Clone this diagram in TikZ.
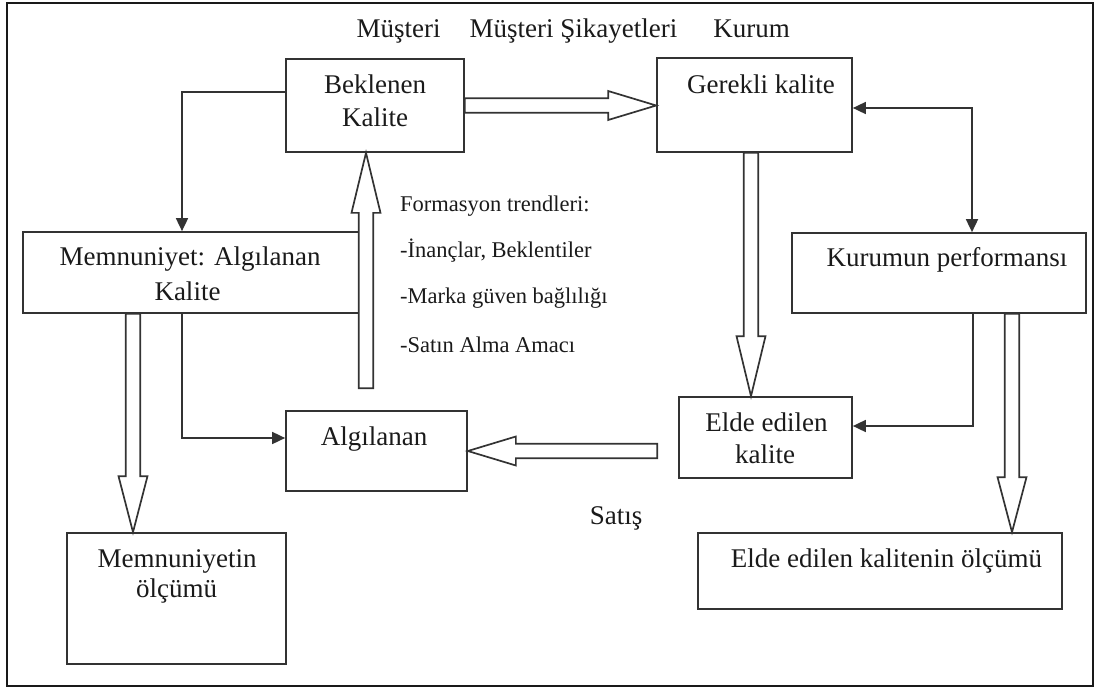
\documentclass[tikz,border=0pt]{standalone}
\usepackage{fontspec}
\setmainfont{Liberation Serif}
\usetikzlibrary{calc,arrows.meta}

\definecolor{linegray}{HTML}{333333}
\definecolor{textblack}{HTML}{1A1A1A}

% Hollow block arrow from #2 to #3, head length #1
\newcommand\blockarrow[3][56pt]{%
  \coordinate (ba-s) at (#2);
  \coordinate (ba-e) at (#3);
  \coordinate (ba-h) at ($(ba-e)!#1!(ba-s)$);
  \draw[hollow] ($(ba-s)!7.2pt!90:(ba-e)$) -- ($(ba-h)!7.2pt!-90:(ba-s)$)
    -- ($(ba-h)!14.5pt!-90:(ba-s)$) -- (ba-e) -- ($(ba-h)!14.5pt!90:(ba-s)$)
    -- ($(ba-h)!7.2pt!90:(ba-s)$) -- ($(ba-s)!7.2pt!-90:(ba-e)$) -- cycle;}

\begin{document}
\begin{tikzpicture}[x=1pt,y=-1pt,
  >={Triangle[length=13pt,width=12pt]},
  box/.style={draw=linegray, line width=1.7pt, inner sep=0pt},
  txt/.style={inner sep=0pt, anchor=base, font=\fontsize{27}{32}\selectfont, text=textblack},
  small/.style={inner sep=0pt, anchor=base west, font=\fontsize{22.5}{27}\selectfont, text=textblack},
  hollow/.style={draw=linegray, line width=1.7pt, fill=white, line join=miter},
  link/.style={draw=linegray, line width=1.7pt},
]
\useasboundingbox (0,0) rectangle (1099,688);
\draw[line width=2.2pt, draw=black!90] (7,3) rectangle (1093,686);

% column headings
\node[txt] (h1) at (398.5,37) {Müşteri};
\node[txt] (h2) at (573.5,37) {Müşteri Şikayetleri};
\node[txt] (h3) at (751.5,37) {Kurum};

% boxes
\node[box, minimum width=178pt, minimum height=93pt] (bek) at (375,105.5) {};
\node[box, minimum width=195pt, minimum height=94pt] (ger) at (754.5,105) {};
\node[box, minimum width=339pt, minimum height=81pt] (mem) at (192.5,272.5) {};
\node[box, minimum width=294pt, minimum height=80pt] (kur) at (939,273) {};
\node[box, minimum width=181pt, minimum height=80pt] (alg) at (376.5,451) {};
\node[box, minimum width=173pt, minimum height=81pt] (elde) at (765.5,437.5) {};
\node[box, minimum width=219pt, minimum height=131pt] (mol) at (176.5,598.5) {};
\node[box, minimum width=364pt, minimum height=76pt] (eol) at (880,571) {};

% box texts
\node[txt] (bek-a) at (375,93) {Beklenen};
\node[txt] (bek-b) at (375,126) {Kalite};
\node[txt] (ger-a) at (761,93) {Gerekli kalite};
\node[txt] (mem-a) at (190,265) {Memnuniyet: Algılanan};
\node[txt] (mem-b) at (187.5,300) {Kalite};
\node[txt] (kur-a) at (947,266) {Kurumun performansı};
\node[txt] (alg-a) at (374,445) {Algılanan};
\node[txt] (elde-a) at (766.5,431) {Elde edilen};
\node[txt] (elde-b) at (765,463) {kalite};
\node[txt] (mol-a) at (177,567) {Memnuniyetin};
\node[txt] (mol-b) at (176.5,597) {ölçümü};
\node[txt] (eol-a) at (886.5,567) {Elde edilen kalitenin ölçümü};
\node[txt] (satis) at (616,524) {Satış};

% formation trends
\node[small] (f1) at (400,211) {Formasyon trendleri:};
\node[small] (f2) at (400,257) {-İnançlar, Beklentiler};
\node[small] (f3) at (400,303) {-Marka güven bağlılığı};
\node[small] (f4) at (400,352) {-Satın Alma Amacı};

% thin connectors
\draw[link,->] ($(bek.west)+(0,-13.5)$) -| ($(mem.north)+(-10.5,0)$);
\draw[link,->] ($(mem.south)+(-10.5,0)$) |- ($(alg.west)+(0,-13)$);
\draw[link,<->] ($(ger.east)+(0,3)$) -| ($(kur.north)+(33,0)$);
\draw[link,->] ($(kur.south)+(34,0)$) |- ($(elde.east)+(0,-11.5)$);

% block arrows
\blockarrow[48pt]{bek.east}{bek.east -| ger.west}
\coordinate (gs) at ($(ger.south)+(-3.5,0)$);
\blockarrow[60pt]{gs}{gs |- elde.north}
\coordinate (ks) at ($(kur.south)+(73,0)$);
\blockarrow[55pt]{ks}{ks |- eol.north}
\coordinate (ms) at ($(mem.south)+(-59.5,0)$);
\blockarrow[56pt]{ms}{ms |- mol.north}
\coordinate (sat) at ($(elde.west |- alg.east)+(-21,0)$);
\blockarrow[48pt]{sat}{alg.east}
\coordinate (up) at ($(alg.north)+(-10.5,-22)$);
\blockarrow[60pt]{up}{up |- bek.south}
\end{tikzpicture}
\end{document}
